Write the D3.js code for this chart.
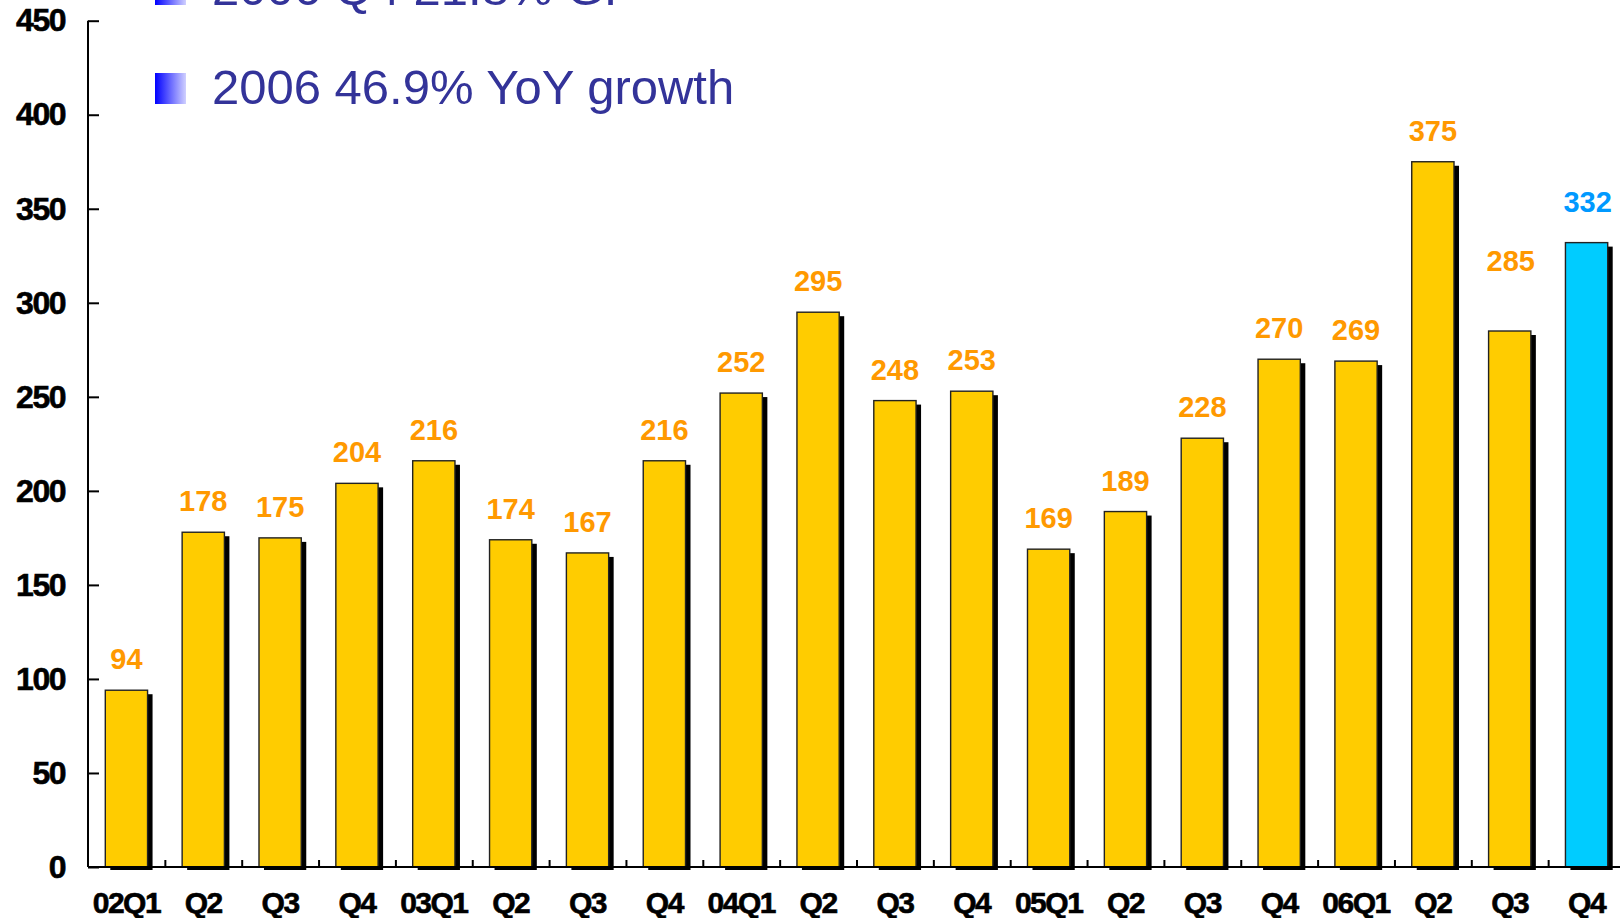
<!DOCTYPE html>
<html>
<head>
<meta charset="utf-8">
<script src="https://cdn.jsdelivr.net/npm/d3@7"></script>
<style>
  body { margin: 0; background: #fff; }
  svg { display: block; }
</style>
</head>
<body>
<div class="chart-wrapper"></div>
<script>
let quarters = ["02Q1","Q2","Q3","Q4","03Q1","Q2","Q3","Q4","04Q1","Q2","Q3","Q4","05Q1","Q2","Q3","Q4","06Q1","Q2","Q3","Q4"];
let revenue = [94,178,175,204,216,174,167,216,252,295,248,253,169,189,228,270,269,375,285,332];
let yTicks = [0,50,100,150,200,250,300,350,400,450];
let legendItems = ["2006 Q4 21.8% GP", "2006 46.9% YoY growth"];

let W = 1620;
let H = 918;
let axisX = 88;
let axisRight = 1625;
let baseY = 867;
let topY = 20.7;

let svg = d3.select(".chart-wrapper")
            .append("svg")
            .attr("width", W)
            .attr("height", H)
;

// gradient for legend squares
let grad = svg.append("defs").append("linearGradient").attr("id", "legGrad");
grad.append("stop").attr("offset", "0%").attr("stop-color", "#0000ff");
grad.append("stop").attr("offset", "100%").attr("stop-color", "#d0d0ff");

// scales
let idx = quarters.map((d,i)=>i);
let xScale = d3.scaleBand().domain(idx).range([axisX, axisRight]).paddingInner(0.45).paddingOuter(0.225);
let yScale = d3.scaleLinear().domain([0,450]).range([baseY, topY]);
let boundaryScale = d3.scaleLinear().domain([0, quarters.length]).range([axisX, axisRight]);

// legend
let legend = svg.append("g").attr("class", "legend");
legendItems.forEach(function(t, i){
  let y = 5 + i*99;
  legend.append("rect")
        .attr("x", 155).attr("y", y-31)
        .attr("width", 31).attr("height", 31)
        .attr("fill", "url(#legGrad)");
  legend.append("text")
        .attr("x", 212).attr("y", y)
        .attr("font-family", "'Liberation Sans', Arial, sans-serif")
        .attr("font-size", 49)
        .attr("fill", "#333399")
        .text(t);
});

// bars
let bars = svg.append("g").attr("class", "bars");
// shadows
bars.selectAll(".shadow").data(revenue).enter()
    .append("rect")
    .attr("class", "shadow")
    .attr("x", (d,i)=>xScale(i)+5)
    .attr("y", d=>yScale(d)+4)
    .attr("width", xScale.bandwidth())
    .attr("height", d=>baseY-yScale(d)-1)
    .attr("fill", "#000")
;
bars.selectAll(".bar").data(revenue).enter()
    .append("rect")
    .attr("class", "bar")
    .attr("x", (d,i)=>xScale(i))
    .attr("y", d=>yScale(d))
    .attr("width", xScale.bandwidth())
    .attr("height", d=>baseY-yScale(d))
    .attr("fill", (d,i)=> i==revenue.length-1 ? "#00ccff" : "#ffcc00")
    .attr("stroke", "#222")
    .attr("stroke-width", 1.4)
;

// value labels (the last two sit a bit higher in the original)
let labelLift = {18: 39, 19: 10};
svg.append("g").selectAll("text").data(revenue).enter()
   .append("text")
   .attr("x", (d,i)=>xScale(i)+xScale.bandwidth()/2 + (i>=18 ? 1 : 0))
   .attr("y", (d,i)=>yScale(d)-21-(labelLift[i]||0))
   .attr("text-anchor", "middle")
   .attr("font-family", "'Liberation Sans', Arial, sans-serif")
   .attr("font-weight", "bold")
   .attr("font-size", 29)
   .attr("fill", (d,i)=> i==revenue.length-1 ? "#0099ff" : "#ff9900")
   .text(d=>d)
;

// y axis
let yAxis = d3.axisLeft(yScale).tickValues(yTicks).tickSize(-11).tickPadding(23);
let yAxisGroup = svg.append("g")
                    .attr("class", "yaxis")
                    .attr("transform", "translate("+axisX+",0)")
                    .call(yAxis)
;
yAxisGroup.select(".domain").attr("stroke", "#000").attr("stroke-width", 2).attr("d", "M0,"+topY+"V"+baseY);
yAxisGroup.selectAll(".tick line").attr("stroke", "#000").attr("stroke-width", 2);
yAxisGroup.selectAll(".tick text")
          .attr("font-family", "'Liberation Sans', Arial, sans-serif")
          .attr("font-weight", "bold")
          .attr("font-size", 32)
          .attr("letter-spacing", -1.5)
          .attr("stroke", "#000").attr("stroke-width", 0.6)
          .attr("fill", "#000")
;

// x axis line + boundary ticks
let xAxis = d3.axisBottom(boundaryScale).tickValues(d3.range(1, quarters.length+1)).tickSize(-7).tickFormat("");
let xAxisGroup = svg.append("g")
                    .attr("class", "xaxis")
                    .attr("transform", "translate(0,"+baseY+")")
                    .call(xAxis)
;
xAxisGroup.select(".domain").attr("stroke", "#000").attr("stroke-width", 2).attr("d", "M"+axisX+",0H"+W);
xAxisGroup.selectAll(".tick line").attr("stroke", "#000").attr("stroke-width", 2);

// x labels
let labelAxis = d3.axisBottom(xScale).tickSize(0).tickFormat(i=>quarters[i]);
let labelGroup = svg.append("g")
                    .attr("transform", "translate(0,"+baseY+")")
                    .call(labelAxis)
;
labelGroup.select(".domain").remove();
labelGroup.selectAll(".tick text")
          .attr("y", 46).attr("dy", 0)
          .attr("font-family", "'Liberation Sans', Arial, sans-serif")
          .attr("font-weight", "bold")
          .attr("font-size", 30)
          .attr("letter-spacing", -1.5)
          .attr("stroke", "#000").attr("stroke-width", 0.6)
          .attr("fill", "#000")
;
</script>
</body>
</html>
